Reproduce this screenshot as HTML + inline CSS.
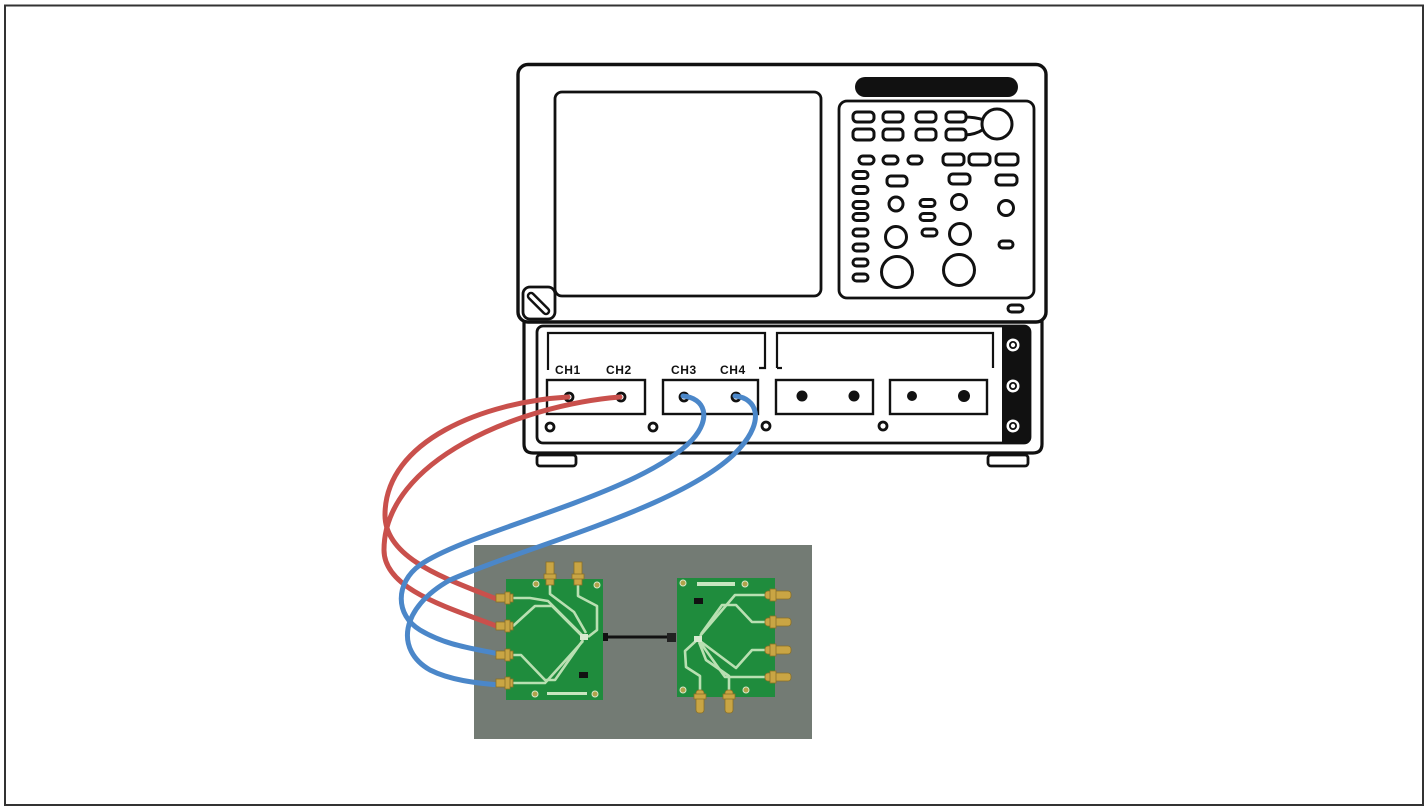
<!DOCTYPE html>
<html>
<head>
<meta charset="utf-8">
<style>
html,body{margin:0;padding:0;background:#fff;}
svg{display:block;}
</style>
</head>
<body>
<svg width="1426" height="808" viewBox="0 0 1426 808" xmlns="http://www.w3.org/2000/svg">
<rect x="0" y="0" width="1426" height="808" fill="#fff"/>
<!-- frame -->
<rect x="5" y="5.5" width="1418" height="799.5" fill="none" stroke="#333" stroke-width="2"/>

<!-- ===== Oscilloscope ===== -->
<g stroke="#111" fill="#fff" stroke-linejoin="round">
  <!-- feet -->
  <rect x="537" y="455" width="39" height="11" rx="3" stroke-width="2.8"/>
  <rect x="988" y="455" width="40" height="11" rx="3" stroke-width="2.8"/>
  <!-- lower body -->
  <path d="M524,318 L524,444 Q524,453 533,453 L1033,453 Q1042,453 1042,444 L1042,318" stroke-width="3.2"/>
  <!-- inner panel -->
  <rect x="537" y="326" width="493" height="117" rx="6" stroke-width="2.8"/>
  <!-- upper body -->
  <rect x="518" y="64.5" width="528" height="257.5" rx="10" stroke-width="3.4"/>
  <!-- screen -->
  <rect x="555" y="92" width="266" height="204" rx="7" stroke-width="2.8"/>
  <!-- knob -->
  <rect x="523" y="287" width="32" height="32" rx="7" stroke-width="2.8"/>
  <!-- control panel -->
  <rect x="839" y="101" width="195" height="197" rx="8" stroke-width="2.8"/>
</g>
<!-- knob slot -->
<line x1="531" y1="296" x2="546" y2="311" stroke="#111" stroke-width="8.5" stroke-linecap="round"/>
<line x1="531" y1="296" x2="546" y2="311" stroke="#fff" stroke-width="3.5" stroke-linecap="round"/>
<!-- black bar -->
<rect x="855" y="77" width="163" height="20" rx="10" fill="#111"/>
<!-- black strip -->
<path d="M1002,326 L1024,326 Q1030,326 1030,332 L1030,437 Q1030,443 1024,443 L1002,443 Z" fill="#111"/>

<!-- control panel buttons -->
<g stroke="#111" stroke-width="3" fill="#fff">
  <!-- knob links -->
  <path d="M964,117 Q975,117 984,120" fill="none"/>
  <path d="M964,135 Q975,135 984,129" fill="none"/>
  <rect x="853" y="112" width="21" height="10" rx="4"/>
  <rect x="883" y="112" width="20" height="10" rx="4"/>
  <rect x="916" y="112" width="20" height="10" rx="4"/>
  <rect x="946" y="112" width="20" height="10" rx="4"/>
  <rect x="853" y="129" width="21" height="11" rx="4"/>
  <rect x="883" y="129" width="20" height="11" rx="4"/>
  <rect x="916" y="129" width="20" height="11" rx="4"/>
  <rect x="946" y="129" width="20" height="11" rx="4"/>
  <circle cx="997" cy="124" r="15"/>
  <!-- row 3 -->
  <rect x="859" y="156" width="15" height="8" rx="4"/>
  <rect x="883" y="156" width="15" height="8" rx="4"/>
  <rect x="908" y="156" width="14" height="8" rx="4"/>
  <rect x="943" y="154" width="21" height="11" rx="4"/>
  <rect x="969" y="154" width="21" height="11" rx="4"/>
  <rect x="996" y="154" width="22" height="11" rx="4"/>
  <!-- left column -->
  <rect x="853" y="171.5" width="15" height="7" rx="3.5"/>
  <rect x="853" y="186.5" width="15" height="7" rx="3.5"/>
  <rect x="853" y="201.5" width="15" height="7" rx="3.5"/>
  <rect x="853" y="213.5" width="15" height="7" rx="3.5"/>
  <rect x="853" y="229" width="15" height="7" rx="3.5"/>
  <rect x="853" y="244" width="15" height="7" rx="3.5"/>
  <rect x="853" y="259" width="15" height="7" rx="3.5"/>
  <rect x="853" y="274" width="15" height="7" rx="3.5"/>
  <!-- mid rows -->
  <rect x="887" y="176" width="20" height="10" rx="4"/>
  <rect x="949" y="174" width="21" height="10" rx="4"/>
  <rect x="996" y="175" width="21" height="10" rx="4"/>
  <circle cx="896" cy="204" r="7"/>
  <circle cx="959" cy="202" r="7.5"/>
  <circle cx="1006" cy="208" r="7.5"/>
  <rect x="920" y="199.5" width="15" height="7" rx="3.5"/>
  <rect x="920" y="213.5" width="15" height="7" rx="3.5"/>
  <rect x="922" y="229" width="15" height="7" rx="3.5"/>
  <circle cx="896" cy="237" r="10.5"/>
  <circle cx="960" cy="234" r="10.5"/>
  <rect x="999" y="241" width="14" height="7" rx="3.5"/>
  <circle cx="897" cy="272" r="15.5"/>
  <circle cx="959" cy="270" r="15.5"/>
  <rect x="1008" y="305" width="15" height="7" rx="3.5"/>
</g>

<!-- brackets -->
<g stroke="#111" stroke-width="2.2" fill="none">
  <path d="M548,370 L548,333 L765,333 L765,368 L759,368"/>
  <path d="M777,368 L777,333 L993,333 L993,368"/>
  <path d="M777,368 L782,368"/>
</g>
<!-- CH labels -->
<g font-family="Liberation Sans, Arial, sans-serif" font-weight="bold" font-size="12" fill="#111" letter-spacing="0.6">
  <text x="555" y="374">CH1</text>
  <text x="606" y="374">CH2</text>
  <text x="671" y="374">CH3</text>
  <text x="720" y="374">CH4</text>
</g>
<!-- connector boxes -->
<g stroke="#111" stroke-width="2.4" fill="#fff">
  <rect x="547" y="380" width="98" height="34"/>
  <rect x="663" y="380" width="95" height="34"/>
  <rect x="776" y="380" width="97" height="34"/>
  <rect x="890" y="380" width="97" height="34"/>
</g>
<!-- connector dots -->
<g fill="#111">
  <circle cx="802" cy="396" r="5.5"/>
  <circle cx="854" cy="396" r="5.5"/>
  <circle cx="912" cy="396" r="5"/>
  <circle cx="964" cy="396" r="6"/>
</g>
<g fill="#fff" stroke="#111" stroke-width="2.8">
  <circle cx="569" cy="397" r="4"/>
  <circle cx="621" cy="397" r="4"/>
  <circle cx="684" cy="397" r="4"/>
  <circle cx="736" cy="397" r="4"/>
  <circle cx="550" cy="427" r="4"/>
  <circle cx="653" cy="427" r="4"/>
  <circle cx="766" cy="426" r="4"/>
  <circle cx="883" cy="426" r="4"/>
</g>
<!-- screws -->
<g>
  <circle cx="1013" cy="345" r="6.5" fill="#fff"/>
  <circle cx="1013" cy="345" r="4" fill="#111"/>
  <circle cx="1013" cy="345" r="2.2" fill="#fff"/>
  <circle cx="1013" cy="386" r="6.5" fill="#fff"/>
  <circle cx="1013" cy="386" r="4" fill="#111"/>
  <circle cx="1013" cy="386" r="2.2" fill="#fff"/>
  <circle cx="1013" cy="426" r="6.5" fill="#fff"/>
  <circle cx="1013" cy="426" r="4" fill="#111"/>
  <circle cx="1013" cy="426" r="2.2" fill="#fff"/>
</g>

<!-- ===== Boards ===== -->
<rect x="474" y="545" width="338" height="194" fill="#737b74"/>
<!-- inter-board cable -->
<line x1="603" y1="637" x2="670" y2="637" stroke="#111" stroke-width="3"/>
<rect x="603" y="633" width="5" height="8" fill="#111"/>
<rect x="667" y="633" width="9" height="9" fill="#222"/>
<!-- left board -->
<rect x="506" y="579" width="97" height="121" fill="#1f8c3d"/>
<!-- right board -->
<rect x="677" y="578" width="98" height="119" fill="#1f8c3d"/>

<g stroke="#b9e0b2" stroke-width="2.6" fill="none" stroke-linejoin="round">
  <!-- left board traces -->
  <path d="M513,598 L530,598 L548,601 L583,636"/>
  <path d="M513,626 L535,606 L552,606 L583,637"/>
  <path d="M513,655 L521,655 L545,680 L555,680 L583,640"/>
  <path d="M513,683 L545,683 L583,641"/>
  <path d="M550,585 L550,594 L574,612 L586,633"/>
  <path d="M578,585 L578,596 L597,606 L597,630 L588,637"/>
  <!-- right board traces -->
  <path d="M765,595 L735,595 L700,636"/>
  <path d="M765,622 L752,622 L736,605 L722,605 L701,634"/>
  <path d="M765,650 L752,650 L736,668 L700,641"/>
  <path d="M765,677 L725,677 L700,642"/>
  <path d="M700,690 L700,676 L686,667 L685,651 L697,640"/>
  <path d="M729,690 L729,676 L706,660 L699,642"/>
</g>
<rect x="580" y="634" width="8" height="6" fill="#d8ead0"/>
<rect x="694" y="636" width="8" height="6" fill="#d8ead0"/>
<!-- chips -->
<rect x="579" y="672" width="9" height="6" fill="#111"/>
<rect x="694" y="598" width="9" height="6" fill="#111"/>
<!-- logos -->
<rect x="547" y="692" width="40" height="3" fill="#c8e6c0"/>
<rect x="697" y="582" width="38" height="4" fill="#c8e6c0"/>
<!-- holes -->
<g fill="#b0a34a" stroke="#d9e8c8" stroke-width="1">
  <circle cx="536" cy="584" r="3"/>
  <circle cx="597" cy="585" r="3"/>
  <circle cx="535" cy="694" r="3"/>
  <circle cx="595" cy="694" r="3"/>
  <circle cx="683" cy="583" r="3"/>
  <circle cx="745" cy="584" r="3"/>
  <circle cx="683" cy="690" r="3"/>
  <circle cx="746" cy="690" r="3"/>
</g>

<!-- ===== Cables ===== -->
<g fill="none" stroke-width="5" stroke-linecap="round">
  <path d="M568,397 C485,402 385,440 385,515 C385,560 450,580 499,600" stroke="#c9504c"/>
  <path d="M620,397 C520,405 384,460 384,550 C384,590 450,608 499,627" stroke="#c9504c"/>
  <path d="M683,396 C705,398 712,418 692,440 C640,495 470,530 420,565 C395,583 395,615 420,630 C445,645 470,648 499,654" stroke="#4b87c9"/>
  <path d="M735,396 C757,398 765,420 740,448 C690,505 530,545 450,580 C400,608 395,650 430,670 C450,680 475,683 499,685" stroke="#4b87c9"/>
</g>

<!-- SMA connectors -->
<g fill="#c9a544" stroke="#8a7026" stroke-width="0.8">
  <rect x="496" y="594" width="17" height="8"/>
  <rect x="505" y="592" width="5" height="12"/>
  <rect x="496" y="622" width="17" height="8"/>
  <rect x="505" y="620" width="5" height="12"/>
  <rect x="496" y="651" width="17" height="8"/>
  <rect x="505" y="649" width="5" height="12"/>
  <rect x="496" y="679" width="17" height="8"/>
  <rect x="505" y="677" width="5" height="12"/>
  <!-- top -->
  <rect x="546" y="562" width="8" height="23"/>
  <rect x="544" y="574" width="12" height="5"/>
  <rect x="574" y="562" width="8" height="23"/>
  <rect x="572" y="574" width="12" height="5"/>
  <!-- right board right side -->
  <rect x="765" y="591" width="26" height="8" rx="3"/>
  <rect x="770" y="589" width="6" height="12"/>
  <rect x="765" y="618" width="26" height="8" rx="3"/>
  <rect x="770" y="616" width="6" height="12"/>
  <rect x="765" y="646" width="26" height="8" rx="3"/>
  <rect x="770" y="644" width="6" height="12"/>
  <rect x="765" y="673" width="26" height="8" rx="3"/>
  <rect x="770" y="671" width="6" height="12"/>
  <!-- right board bottom -->
  <rect x="696" y="690" width="8" height="23" rx="3"/>
  <rect x="694" y="694" width="12" height="5"/>
  <rect x="725" y="690" width="8" height="23" rx="3"/>
  <rect x="723" y="694" width="12" height="5"/>
</g>
</svg>
</body>
</html>
